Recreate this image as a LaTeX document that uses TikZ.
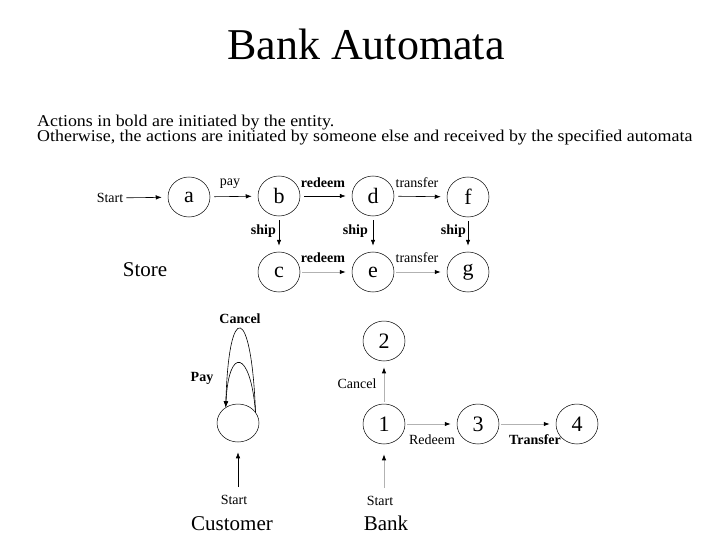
\documentclass[tikz,border=0pt]{standalone}
\usepackage{fontspec}
\setmainfont{Liberation Serif}
\newfontfamily\bodyfont[FakeStretch=1.085]{Liberation Serif}
\usetikzlibrary{arrows.meta,shapes.geometric}
\begin{document}
\begin{tikzpicture}[x=1pt,y=-1pt,
  st/.style={draw, ellipse, minimum width=42pt, minimum height=40pt, inner sep=0pt, line width=0.5pt, font=\fontsize{22}{22}\selectfont},
  lab/.style={font=\fontsize{14}{14}\selectfont, inner sep=0pt},
  blab/.style={font=\fontsize{14}{14}\selectfont\bfseries, inner sep=0pt},
  big/.style={font=\fontsize{21}{21}\selectfont, inner sep=0pt, anchor=base},
  arr/.style={-{Latex[length=6pt,width=4.5pt]}, line width=0.6pt, shorten >=6pt, shorten <=4pt},
  garr/.style={draw=black!30, -{Latex[length=6pt,width=4.5pt,color=black]}, line width=0.9pt, shorten >=6pt, shorten <=2pt},
]
\useasboundingbox (0,0) rectangle (720,540);

% title and notes
\node[font=\fontsize{44}{44}\selectfont, anchor=base, inner sep=0pt] (title) at (366,60) {Bank Automata};
\node[font=\bodyfont\fontsize{16.5}{16.5}\selectfont, anchor=base west, inner sep=0pt] (n1) at (37,127) {Actions in bold are initiated by the entity.};
\node[font=\bodyfont\fontsize{16.5}{16.5}\selectfont, anchor=base west, inner sep=0pt] (n2) at (37,142) {Otherwise, the actions are initiated by someone else and received by the specified automata};

% ---------- Store ----------
\node[st] (a) at (189,197) {a};
\node[st] (b) at (279,196) {b};
\node[st] (d) at (373,196) {d};
\node[st] (f) at (468,197) {f};
\node[st] (c) at (279,272) {c};
\node[st] (e) at (373,272) {e};
\node[st] (g) at (468,272) {g};
\node[lab] (s1) at (110,198) {Start};
\node[big] (store) at (145,276) {Store};

\draw[arr, shorten <=3pt] (s1) -- (a);
\draw[arr] (a) -- (b);
\draw[arr] (b) -- (d);
\draw[arr] (d) -- (f);
\draw[arr] (b) -- (c);
\draw[arr] (d) -- (e);
\draw[arr] (f) -- (g);
\draw[garr] (c) -- (e);
\draw[garr] (e) -- (g);

\node[lab] (lpay) at (230,184) {pay};
\node[blab] (lr1) at (323,183) {redeem};
\node[lab] (lt1) at (417,183) {transfer};
\node[blab, anchor=east] (ls1) at (276,231) {ship};
\node[blab, anchor=east] (ls2) at (368,231) {ship};
\node[blab, anchor=east] (ls3) at (466,231) {ship};
\node[blab] (lr2) at (323,258) {redeem};
\node[lab] (lt2) at (417,258) {transfer};

% ---------- Customer ----------
\node[st, minimum height=38pt] (cu) at (238,423) {};
\draw[arr, shorten >=0pt, shorten <=0pt] (cu.32) .. controls +(-4,-108) and +(3,-108) .. (cu.128);
\draw[arr, shorten >=0pt, shorten <=0pt] (cu.32) .. controls +(-5,-62) and +(3,-62) .. (cu.128);
\node[blab] (lcan) at (240,319) {Cancel};
\node[blab] (lpay2) at (202,378) {Pay};
\node[lab] (sc) at (234,500) {Start};
\draw[arr, shorten >=10pt, shorten <=8pt] (cu |- sc.north) -- (cu.south);
\node[big] (cust) at (232,530) {Customer};

% ---------- Bank ----------
\node[st] (q2) at (384,341) {2};
\node[st] (q1) at (384,424) {1};
\node[st] (q3) at (478,424) {3};
\node[st] (q4) at (577,424) {4};
\node[lab] (sb) at (380,501) {Start};
\node[big] (bank) at (386,530) {Bank};
\draw[garr] (q1) -- (q2);
\draw[garr] (q1) -- (q3);
\draw[garr] (q3) -- (q4);
\draw[garr, shorten >=10pt, shorten <=8pt] (q1 |- sb.north) -- (q1.south);
\node[lab] (lbc) at (357,384) {Cancel};
\node[lab] (lbr) at (432,440) {Redeem};
\node[blab] (lbt) at (535,440) {Transfer};
\end{tikzpicture}
\end{document}
